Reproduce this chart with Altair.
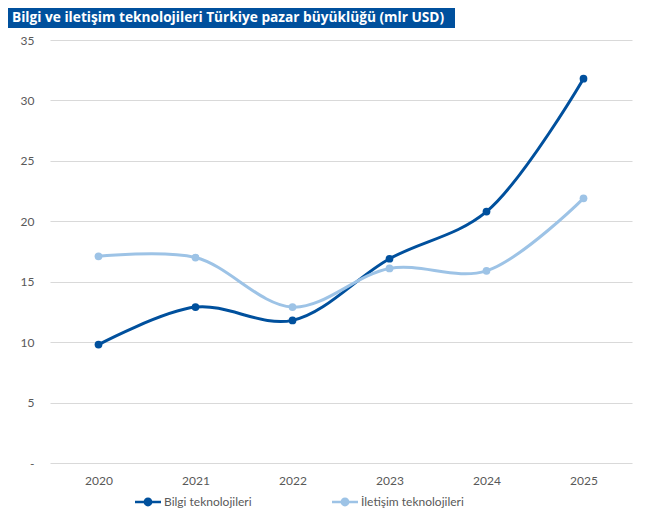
import altair as alt
import pandas as pd

title_text = "Bilgi ve iletişim teknolojileri Türkiye pazar büyüklüğü (mlr USD)"
years = ["2020", "2021", "2022", "2023", "2024", "2025"]
series_names = ["Bilgi teknolojileri", "İletişim teknolojileri"]
bilgi = [9.8, 12.9, 11.8, 16.9, 20.8, 31.8]
iletisim = [17.1, 17.0, 12.9, 16.1, 15.9, 21.9]
colors = ["#00509D", "#9DC3E6"]

rows = []
for name, vals in zip(series_names, [bilgi, iletisim]):
    for y, v in zip(years, vals):
        rows.append({"year": y, "series": name, "value": v})
df = pd.DataFrame(rows)

FONT = "Lato"

sym = "M-1,-0.1H1V0.1H-1Z M0.34,0 A0.34,0.34 0 1 1 -0.34,0 A0.34,0.34 0 1 1 0.34,0 Z"

color = alt.Color(
    "series:N",
    scale=alt.Scale(domain=series_names, range=colors),
    legend=alt.Legend(
        title=None, orient="none", legendX=85, legendY=449, direction="horizontal",
        symbolType=sym, symbolSize=676, symbolStrokeWidth=0,
        labelFont=FONT, labelFontSize=12, labelColor="#595959",
        columnPadding=80, labelOffset=3,
    ),
)

x = alt.X("year:O", sort=years, title=None,
          scale=alt.Scale(paddingInner=0, paddingOuter=0.5),
          axis=alt.Axis(labelAngle=0, ticks=False, domain=False, labelPadding=12,
                        labelFont=FONT, labelFontSize=12, labelColor="#595959"))
y = alt.Y("value:Q", title=None,
          scale=alt.Scale(domain=[0, 35], nice=False),
          axis=alt.Axis(values=[0, 5, 10, 15, 20, 25, 30, 35], ticks=False, domain=False,
                        labelExpr="datum.value == 0 ? '-' : datum.label",
                        labelPadding=16, labelFont=FONT, labelFontSize=12,
                        labelColor="#595959", gridColor="#D9D9D9", gridWidth=1))

base = alt.Chart(df)
lines = base.mark_line(interpolate="catmull-rom", strokeWidth=3).encode(x=x, y=y, color=color)
points = base.mark_point(filled=True, size=60, opacity=1).encode(x=x, y=y, color=color)

tdf = pd.DataFrame({"t": [title_text]})
bar = alt.Chart(tdf).mark_rect(color="#00509D").encode(
    x=alt.value(-42), x2=alt.value(405), y=alt.value(-32), y2=alt.value(-12))
ttl = alt.Chart(tdf).mark_text(align="left", baseline="middle", color="white",
                               fontWeight="bold", fontSize=13.7, font="Open Sans").encode(
    x=alt.value(-38), y=alt.value(-22), text="t:N")

chart = alt.layer(lines, points, bar, ttl).properties(
    width=582, height=423,
    padding={"left": 42, "top": 32, "right": 15, "bottom": 49},
    autosize=alt.AutoSizeParams(type="none"),
).configure_view(stroke=None)

chart.save("out.html", embed_options={"renderer": "svg", "actions": False})
